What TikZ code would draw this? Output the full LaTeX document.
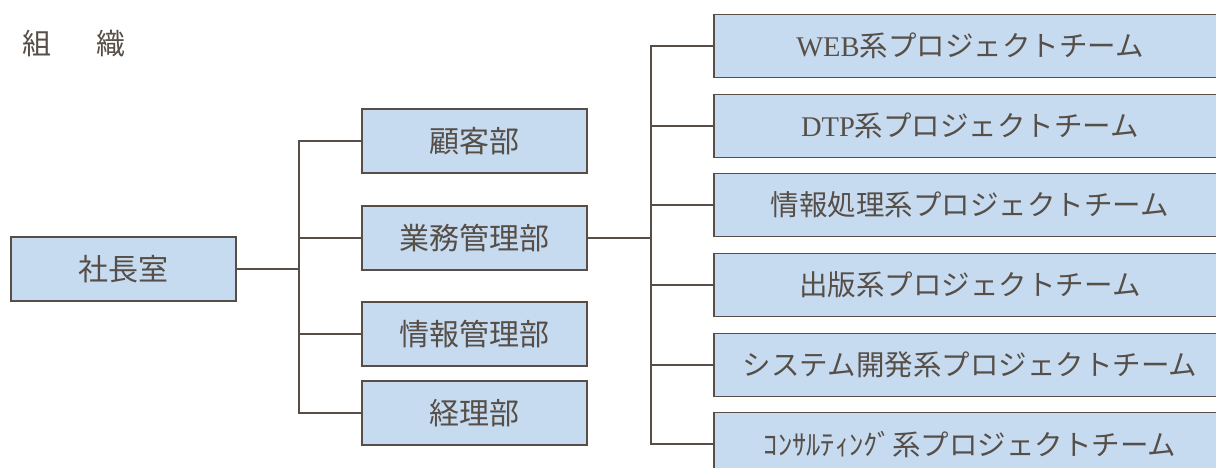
\documentclass[tikz,border=0pt]{standalone}
\usepackage{fontspec}
\setmainfont{Noto Sans CJK JP}
\newfontfamily\latinserif{Liberation Serif}
\definecolor{boxfill}{HTML}{C6DBF0}
\definecolor{ink}{HTML}{564E47}
\begin{document}
\begin{tikzpicture}[x=1pt,y=-1pt,
  box/.style={draw=ink,fill=boxfill,line width=1.6pt,inner sep=0pt,text=ink,
    font=\fontsize{30}{36}\selectfont,minimum height=64pt},
  midbox/.style={box,minimum width=225pt},
  teambox/.style={box,minimum width=512pt,minimum height=63pt,font=\fontsize{28.5}{34}\selectfont},
  link/.style={draw=ink,line width=1.6pt}]
\useasboundingbox (0,0) rectangle (1216,468);
\clip (0,0) rectangle (1216,468);

\node[anchor=west,text=ink,inner sep=0pt,font=\fontsize{29}{34}\selectfont] (title) at (22,44) {組\hspace{45pt}織};

\node[midbox] (shacho) at (123.5,269) {社長室};
\node[midbox] (kokyaku) at (474.5,141) {顧客部};
\node[midbox] (gyomu) at (474.5,238) {業務管理部};
\node[midbox] (joho) at (474.5,334) {情報管理部};
\node[midbox] (keiri) at (474.5,413) {経理部};

\node[teambox] (web) at (970,46) {{\latinserif WEB}系プロジェクトチーム};
\node[teambox] (dtp) at (970,126) {{\latinserif DTP}系プロジェクトチーム};
\node[teambox] (info) at (970,205) {情報処理系プロジェクトチーム};
\node[teambox] (pub) at (970,285) {出版系プロジェクトチーム};
\node[teambox] (sys) at (970,365) {システム開発系プロジェクトチーム};
\node[teambox] (cons) at (970,444) {ｺﾝｻﾙﾃｨﾝｸﾞ系プロジェクトチーム};

\coordinate (b1) at (299,0);
\coordinate (b2) at (651,0);

\draw[link] (shacho.east) -- (shacho.east -| b1);
\draw[link] (kokyaku.west) -- (kokyaku.west -| b1) -- (keiri.west -| b1) -- (keiri.west);
\draw[link] (gyomu.west) -- (gyomu.west -| b1);
\draw[link] (joho.west) -- (joho.west -| b1);

\draw[link] (gyomu.east) -- (gyomu.east -| b2);
\draw[link] (web.west) -- (web.west -| b2) -- (cons.west -| b2) -- (cons.west);
\draw[link] (dtp.west) -- (dtp.west -| b2);
\draw[link] (info.west) -- (info.west -| b2);
\draw[link] (pub.west) -- (pub.west -| b2);
\draw[link] (sys.west) -- (sys.west -| b2);
\end{tikzpicture}
\end{document}
